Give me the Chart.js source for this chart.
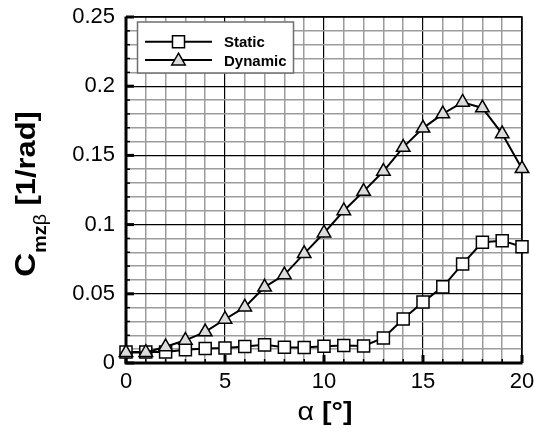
<!DOCTYPE html>
<html>
<head>
<meta charset="utf-8">
<script src="https://cdn.jsdelivr.net/npm/chart.js@4/dist/chart.umd.min.js"></script>
<style>
  html, body { margin: 0; padding: 0; background: #ffffff; }
  canvas { display: block; }
</style>
</head>
<body>
<canvas id="c" width="534" height="429"></canvas>
<script>
// ---- data ----
const alphaDeg = [0, 1, 2, 3, 4, 5, 6, 7, 8, 9, 10, 11, 12, 13, 14, 15, 16, 17, 18, 19, 20];
const staticCm = [0.0080, 0.0080, 0.0080, 0.0096, 0.0105, 0.0109, 0.0120, 0.0131, 0.0114, 0.0112, 0.0121,
                  0.0127, 0.0123, 0.0181, 0.0318, 0.0440, 0.0550, 0.0716, 0.0872, 0.0884, 0.0840];
const dynamicCm = [0.0075, 0.0076, 0.0117, 0.0164, 0.0225, 0.0316, 0.0404, 0.0548, 0.0637, 0.0790, 0.0939,
                   0.1100, 0.1240, 0.1385, 0.1558, 0.1697, 0.1800, 0.1884, 0.1843, 0.1656, 0.1404];
const seriesNames = ['Static', 'Dynamic'];
const xTickLabels = ['0', '5', '10', '15', '20'];
const yTickLabels = ['0', '0.05', '0.1', '0.15', '0.2', '0.25'];

const FONT = '"Liberation Sans", Arial, Helvetica, sans-serif';
Chart.defaults.font.family = FONT;
Chart.defaults.color = '#000';

const toPts = (xs, ys) => xs.map((x, i) => ({ x: x, y: ys[i] }));
const isMajorX = v => xTickLabels.includes(String(Math.round(v)));
const isMajorY = v => yTickLabels.includes(String(Math.round(v * 100) / 100));

const MARK = {
  Static:  { pointStyle: 'rect', radius: 8.5, fill: '#ffffff' },
  Dynamic: { pointStyle: 'triangle', radius: 7.8, fill: '#dcdcdc' }
};

function drawMarker(ctx, style, x, y) {
  ctx.save();
  ctx.fillStyle = style.fill;
  ctx.strokeStyle = '#000';
  ctx.lineWidth = 1.5;
  if (Chart.helpers && Chart.helpers.drawPoint) {
    Chart.helpers.drawPoint(ctx, { pointStyle: style.pointStyle, radius: style.radius, rotation: 0, borderWidth: 1.5 }, x, y);
  }
  ctx.restore();
}

const framePlugin = {
  id: 'frame',
  beforeDatasetsDraw(chart) {
    const { ctx, chartArea: a, scales } = chart;
    ctx.save();
    ctx.strokeStyle = '#000';
    // thin top / right border
    ctx.lineWidth = 1.5;
    ctx.beginPath();
    ctx.moveTo(a.left, a.top); ctx.lineTo(a.right, a.top); ctx.lineTo(a.right, a.bottom);
    ctx.stroke();
    // inward tick marks
    scales.y.ticks.forEach(t => {
      const p = scales.y.getPixelForValue(t.value);
      const maj = isMajorY(t.value);
      ctx.lineWidth = maj ? 3 : 1.5;
      ctx.beginPath(); ctx.moveTo(a.left, p); ctx.lineTo(a.left + (maj ? 8 : 4), p); ctx.stroke();
    });
    scales.x.ticks.forEach(t => {
      const p = scales.x.getPixelForValue(t.value);
      const maj = isMajorX(t.value);
      ctx.lineWidth = maj ? 3 : 1.5;
      ctx.beginPath(); ctx.moveTo(p, a.bottom); ctx.lineTo(p, a.bottom - (maj ? 8 : 4)); ctx.stroke();
    });
    // thick left / bottom axes
    ctx.lineWidth = 3;
    ctx.beginPath();
    ctx.moveTo(a.left, a.top - 0.5); ctx.lineTo(a.left, a.bottom + 1.5);
    ctx.moveTo(a.left - 1.5, a.bottom); ctx.lineTo(a.right + 0.5, a.bottom);
    ctx.stroke();
    ctx.restore();
  },
  afterDraw(chart) {
    const { ctx, chartArea: a } = chart;
    ctx.save();
    // ---- legend ----
    const lx = 137.5, ly = 22, lw = 156, lh = 51;
    ctx.fillStyle = '#fff';
    ctx.fillRect(lx, ly, lw, lh);
    ctx.strokeStyle = '#6e6e6e';
    ctx.lineWidth = 1.5;
    ctx.strokeRect(lx, ly, lw, lh);
    const rows = [41.7, 60];
    seriesNames.forEach((name, i) => {
      const yy = rows[i];
      ctx.strokeStyle = '#000';
      ctx.lineWidth = 2;
      ctx.beginPath(); ctx.moveTo(145, yy); ctx.lineTo(212, yy); ctx.stroke();
      drawMarker(ctx, MARK[name], 178.5, yy + (name === 'Dynamic' ? 1 : 0));
      ctx.fillStyle = '#000';
      ctx.font = 'bold 15px ' + FONT;
      ctx.textAlign = 'left';
      ctx.textBaseline = 'alphabetic';
      ctx.fillText(name, 224, yy + 5.5);
    });

    // ---- x axis title: α [°] ----
    const sx = 1.1;
    ctx.fillStyle = '#000';
    ctx.font = '26px ' + FONT;
    const w1 = ctx.measureText('\u03B1').width;
    ctx.font = 'bold 26px ' + FONT;
    const w2 = ctx.measureText(' [\u00B0]').width;
    const tot = (w1 + w2) * sx;
    const cx = (a.left + a.right) / 2 + 1;
    ctx.save();
    ctx.translate(cx - tot / 2, 419.5);
    ctx.scale(sx, 1);
    ctx.textAlign = 'left';
    ctx.textBaseline = 'alphabetic';
    ctx.font = '26px ' + FONT;
    ctx.fillText('\u03B1', 0, 0);
    ctx.font = 'bold 26px ' + FONT;
    ctx.fillText(' [\u00B0]', w1, 0);
    ctx.restore();

    // ---- y axis title: C_mzβ [1/rad] ----
    const parts = [
      { t: 'C', f: 'bold 30px ' + FONT, dy: 0 },
      { t: 'mz', f: 'bold 18px ' + FONT, dy: 11 },
      { t: '\u03B2', f: '18px ' + FONT, dy: 11 },
      { t: ' [1/rad]', f: 'bold 28px ' + FONT, dy: 0 }
    ];
    const s2 = 1.1;
    let total = 0;
    parts.forEach(p => { ctx.font = p.f; p.w = ctx.measureText(p.t).width; total += p.w; });
    const cy = (a.top + a.bottom) / 2 + 4;
    ctx.save();
    ctx.translate(35, cy);
    ctx.rotate(-Math.PI / 2);
    ctx.scale(s2, 1);
    ctx.textAlign = 'left';
    ctx.textBaseline = 'alphabetic';
    let xx = -total / 2;
    parts.forEach(p => {
      ctx.font = p.f;
      ctx.fillText(p.t, xx, p.dy);
      xx += p.w;
    });
    ctx.restore();
    ctx.restore();
  }
};

new Chart(document.getElementById('c'), {
  type: 'scatter',
  data: {
    datasets: [
      {
        label: seriesNames[1],
        data: toPts(alphaDeg, dynamicCm),
        showLine: true,
        borderColor: '#000',
        borderWidth: 2,
        tension: 0,
        pointStyle: MARK.Dynamic.pointStyle,
        pointRadius: MARK.Dynamic.radius,
        pointBackgroundColor: MARK.Dynamic.fill,
        pointBorderColor: '#000',
        pointBorderWidth: 1.5,
        clip: false
      },
      {
        label: seriesNames[0],
        data: toPts(alphaDeg, staticCm),
        showLine: true,
        borderColor: '#000',
        borderWidth: 2,
        tension: 0,
        pointStyle: MARK.Static.pointStyle,
        pointRadius: MARK.Static.radius,
        pointBackgroundColor: MARK.Static.fill,
        pointBorderColor: '#000',
        pointBorderWidth: 1.5,
        clip: false
      }
    ]
  },
  options: {
    responsive: false,
    animation: false,
    devicePixelRatio: 1,
    layout: { padding: { top: 17, right: 12, left: 0, bottom: 0 } },
    plugins: { legend: { display: false }, tooltip: { enabled: false } },
    scales: {
      x: {
        type: 'linear',
        min: 0, max: 20,
        afterFit(s) { s.height = 66; s.paddingLeft = 0; s.paddingRight = 0; s.paddingTop = 0; s.paddingBottom = 0; },
        border: { display: false },
        grid: {
          drawTicks: false,
          color: c => (c.tick && isMajorX(c.tick.value)) ? '#000' : '#9c9c9c',
          lineWidth: c => (c.tick && isMajorX(c.tick.value)) ? 1.2 : 1.5
        },
        ticks: {
          stepSize: 1,
          autoSkip: false,
          maxRotation: 0,
          padding: 6,
          color: '#000',
          font: { size: 22 },
          callback: v => isMajorX(v) ? String(Math.round(v)) : ''
        }
      },
      y: {
        type: 'linear',
        min: 0, max: 0.25,
        afterFit(s) { s.width = 126; s.paddingLeft = 0; s.paddingRight = 0; s.paddingTop = 0; s.paddingBottom = 0; },
        border: { display: false },
        grid: {
          drawTicks: false,
          color: c => (c.tick && isMajorY(c.tick.value)) ? '#000' : '#9c9c9c',
          lineWidth: c => (c.tick && isMajorY(c.tick.value)) ? 1.2 : 1.5
        },
        ticks: {
          stepSize: 0.01,
          autoSkip: false,
          padding: 11,
          color: '#000',
          font: { size: 22 },
          callback: v => isMajorY(v) ? String(Math.round(v * 100) / 100) : ''
        }
      }
    }
  },
  plugins: [framePlugin]
});
</script>
</body>
</html>
